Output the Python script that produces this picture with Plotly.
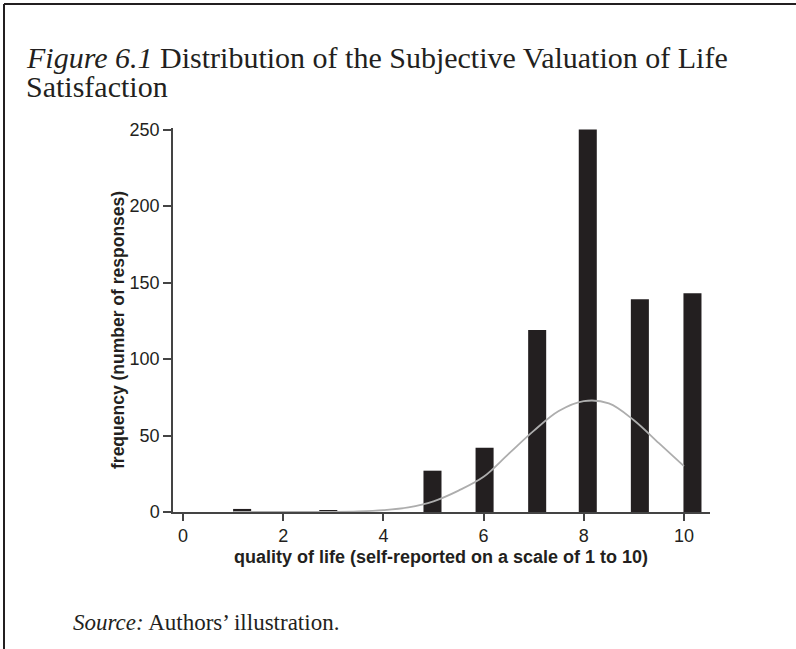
import plotly.graph_objects as go

# histogram bars (bin position, number of responses)
bar_x = [1.18, 2.90, 4.98, 6.02, 7.07, 8.08, 9.12, 10.17]
bar_y = [2, 1, 27, 42, 119, 250, 139, 143]

# fitted normal curve, read at regular points
curve_x = [1, 2, 3, 3.5, 4, 4.5, 5, 5.5, 6, 6.5, 7, 7.5, 8, 8.5, 9, 9.5, 10]
curve_y = [0, 0, 0.1, 0.4, 1.2, 3, 7, 14, 23, 38, 53, 66, 72.5, 71, 60, 45, 30]

x_ticks = [0, 2, 4, 6, 8, 10]
y_ticks = [0, 50, 100, 150, 200, 250]

ink = '#231f20'
serif = 'Liberation Serif'
sans = 'Liberation Sans'

W, H = 796, 649
L, R, T, B = 173, 710, 128, 512   # plot area in pixels

def px(x):
    return (x - L) / (R - L)

def py(y):
    return (B - y) / (B - T)

fig = go.Figure()
fig.add_trace(go.Bar(x=bar_x, y=bar_y, width=0.36, marker=dict(color=ink, line=dict(width=0))))
fig.add_trace(go.Scatter(x=curve_x, y=curve_y, mode='lines',
                         line=dict(color='#adadad', width=1.8, shape='spline')))

fig.update_layout(
    width=W, height=H,
    margin=dict(l=L, r=W - R, t=T, b=H - B, autoexpand=False),
    paper_bgcolor='white', plot_bgcolor='white',
    showlegend=False,
    font=dict(family=sans, color=ink),
)
fig.update_xaxes(range=[-0.2, 10.52], tickvals=x_ticks, showgrid=False, zeroline=False,
                 showline=True, linecolor='#444', linewidth=1.5,
                 ticks='outside', ticklen=7, tickcolor='#444', tickwidth=1.5,
                 tickfont=dict(size=18, color=ink))
fig.update_yaxes(range=[0, 251], tickvals=y_ticks, showgrid=False, zeroline=False,
                 showline=True, linecolor='#444', linewidth=1.5,
                 ticks='outside', ticklen=8, tickcolor='#444', tickwidth=1.5,
                 tickfont=dict(size=18, color=ink))

ann = [
    dict(x=px(24), y=py(58), xanchor='left', yanchor='middle',
         text='<i>Figure 6.1</i> Distribution of the Subjective Valuation of Life',
         font=dict(family=serif, size=30, color=ink)),
    dict(x=px(24), y=py(86), xanchor='left', yanchor='middle',
         text='Satisfaction', font=dict(family=serif, size=30, color=ink)),
    dict(x=px(441), y=py(557), xanchor='center', yanchor='middle',
         text='<b>quality of life (self-reported on a scale of 1 to 10)</b>',
         font=dict(family=sans, size=18, color=ink)),
    dict(x=px(118), y=py(330), xanchor='center', yanchor='middle', textangle=-90,
         text='<b>frequency (number of responses)</b>',
         font=dict(family=sans, size=17.5, color=ink)),
    dict(x=px(71), y=py(622), xanchor='left', yanchor='middle',
         text='<i>Source:</i> Authors\u2019 illustration.',
         font=dict(family=serif, size=23, color=ink)),
]
for a in ann:
    a.update(xref='paper', yref='paper', showarrow=False)
fig.update_layout(annotations=ann)

# frame around the figure: top and left edges
fig.add_shape(type='line', xref='paper', yref='paper', x0=px(4), x1=px(W), y0=py(4), y1=py(4),
              line=dict(color=ink, width=2))
fig.add_shape(type='line', xref='paper', yref='paper', x0=px(4), x1=px(4), y0=py(4), y1=py(H),
              line=dict(color=ink, width=2))

fig.write_html('out.html', config={'displayModeBar': False},
               post_script="document.body.style.margin='0';")
